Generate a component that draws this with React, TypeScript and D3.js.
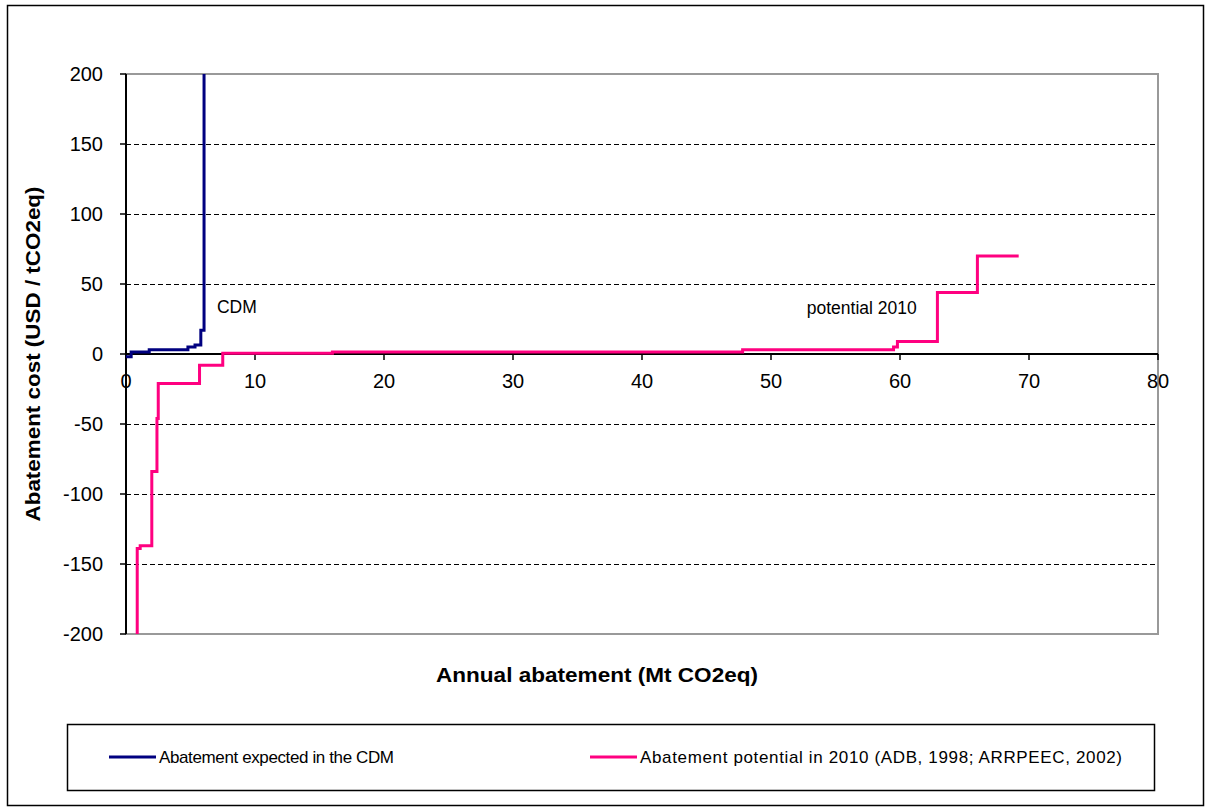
import React from "react";
import * as d3 from "d3";

const xTicks = [0, 10, 20, 30, 40, 50, 60, 70, 80];
const yTicks = [-200, -150, -100, -50, 0, 50, 100, 150, 200];
const gridValues = [-150, -100, -50, 50, 100, 150];

// CDM curve (step after)
const cdmX = [0, 0.4, 1.8, 4.8, 5.35, 5.8, 6.05, 6.05];
const cdmY = [-2, 1.4, 3, 5, 6.5, 17, 17, 200];

// Potential 2010 curve (step after)
const potX = [0.87, 0.87, 1.1, 2.0, 2.4, 2.5, 5.7, 7.5, 16, 47.8, 59.5, 59.8, 62.9, 66.0, 69.2];
const potY = [-200, -139, -137, -84, -46, -21, -8, 0.5, 1.5, 3, 5, 9, 44, 70, 70];

const labels = [
  { text: "CDM", x: 7.05, y: 29, anchor: "start" },
  { text: "potential 2010", x: 61.3, y: 28.6, anchor: "end" },
];

const legendItems = [
  { text: "Abatement expected in the CDM", color: "#000080" },
  { text: "Abatement potential in 2010 (ADB, 1998; ARRPEEC, 2002)", color: "#FF0080" },
];

const FONT = "'Liberation Sans', Arial, sans-serif";

export default function App() {
  const W = 1211;
  const H = 812;
  const left = 126, right = 1158, top = 74, bottom = 634;
  const x = d3.scaleLinear().domain([0, 80]).range([left, right]);
  const y = d3.scaleLinear().domain([-200, 200]).range([bottom, top]);
  const line = d3
    .line<[number, number]>()
    .x((d) => x(d[0]))
    .y((d) => y(d[1]))
    .curve(d3.curveStepAfter);
  const cdm = cdmX.map((v, i) => [v, cdmY[i]] as [number, number]);
  const pot = potX.map((v, i) => [v, potY[i]] as [number, number]);
  const y0 = y(0);

  return (
    <svg
      width={W}
      height={H}
      style={{ position: "absolute", left: 0, top: 0, background: "#fff" }}
      fontFamily={FONT}
    >
      <rect x={0} y={0} width={W} height={H} fill="#fff" />
      <rect x={7.5} y={5.5} width={1196} height={800} fill="none" stroke="#000" strokeWidth={1.5} />
      {/* plot border */}
      <rect x={left} y={top} width={right - left} height={bottom - top} fill="none" stroke="#999" strokeWidth={2} />
      {gridValues.map((v) => (
        <line
          key={v}
          x1={left}
          x2={right}
          y1={y(v) + 0.5}
          y2={y(v) + 0.5}
          stroke="#000"
          strokeWidth={1}
          strokeDasharray="5,3"
        />
      ))}
      {/* axes */}
      <line x1={left} x2={left} y1={top} y2={bottom} stroke="#000" strokeWidth={2} />
      <line x1={left} x2={right} y1={y0} y2={y0} stroke="#000" strokeWidth={2} />
      {yTicks.map((v) => (
        <g key={v}>
          <line x1={left - 6} x2={left} y1={y(v)} y2={y(v)} stroke="#000" strokeWidth={1.5} />
          <text x={103} y={y(v)} dy="0.35em" textAnchor="end" fontSize={20}>
            {v}
          </text>
        </g>
      ))}
      {xTicks.map((v) => (
        <g key={v}>
          <line x1={x(v)} x2={x(v)} y1={y0} y2={y0 + 6} stroke="#000" strokeWidth={1.5} />
          <text x={x(v)} y={y0 + 34} textAnchor="middle" fontSize={20}>
            {v}
          </text>
        </g>
      ))}
      <path d={line(cdm) || ""} fill="none" stroke="#000080" strokeWidth={3} />
      <path d={line(pot) || ""} fill="none" stroke="#FF0080" strokeWidth={3} />
      {labels.map((l) => (
        <text key={l.text} x={x(l.x)} y={y(l.y)} fontSize={17.5} textAnchor={l.anchor as any}>
          {l.text}
        </text>
      ))}
      <text
        x={597}
        y={682}
        textAnchor="middle"
        fontSize={19.5}
        fontWeight="bold"
        textLength={322}
        lengthAdjust="spacingAndGlyphs"
      >
        Annual abatement (Mt CO2eq)
      </text>
      <text
        transform={`translate(40,${(top + bottom) / 2}) rotate(-90)`}
        textAnchor="middle"
        fontSize={19.5}
        fontWeight="bold"
        textLength={335}
        lengthAdjust="spacingAndGlyphs"
      >
        Abatement cost (USD / tCO2eq)
      </text>
      {/* legend */}
      <rect x={67.5} y={724.5} width={1087} height={66} fill="none" stroke="#000" strokeWidth={1.5} />
      {legendItems.map((it, i) => {
        const lx = i === 0 ? 109 : 590;
        return (
          <g key={it.text}>
            <line x1={lx} x2={lx + 47} y1={757} y2={757} stroke={it.color} strokeWidth={3} />
            <text
              x={lx + 50}
              y={757}
              dy="0.35em"
              fontSize={17}
              textLength={i === 0 ? 235 : 482}
              lengthAdjust="spacing"
            >
              {it.text}
            </text>
          </g>
        );
      })}
    </svg>
  );
}
